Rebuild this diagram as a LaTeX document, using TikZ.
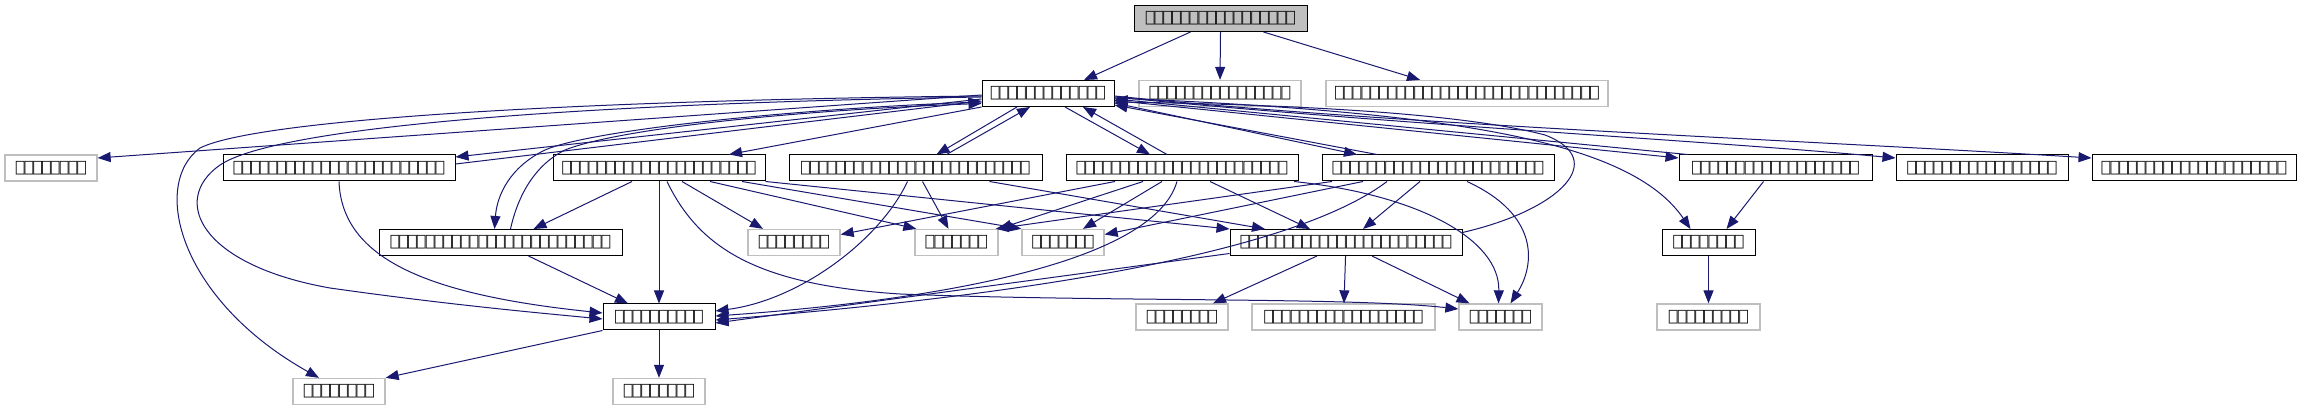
\documentclass[tikz,border=0pt]{standalone}
\usepackage{fontspec}
\usepackage{tikz}
\usetikzlibrary{arrows.meta, positioning, calc}
\usepackage{xcolor}
\newfontfamily\tofufont{DejaVu Sans Mono}
\definecolor{depblue}{HTML}{191970}
\definecolor{depgray}{HTML}{BFBFBF}

\begin{document}
\begin{tikzpicture}[x=1pt, y=-1pt,
    file/.style={draw=black, fill=white, line width=1pt, inner sep=0pt,
      minimum height=26pt, font=\tofufont\fontsize{14.6pt}{16pt}\selectfont},
    extfile/.style={file, draw=depgray, line width=1.3pt},
    rootfile/.style={file, fill=depgray},
    dep/.style={draw=depblue, line width=1pt,
      -{Triangle[length=13pt, width=10pt]}}]
  \fill[white] (0, 0) rectangle (2301, 411);
  \useasboundingbox (0, 0) rectangle (2301, 411);

  % Files
  \node[rootfile, minimum width=173pt] (src) at (1220.5, 18.5) {⎕⎕⎕⎕⎕⎕⎕⎕⎕⎕⎕⎕⎕⎕⎕⎕⎕};
  \node[file, minimum width=132pt] (hub) at (1048, 93.5) {⎕⎕⎕⎕⎕⎕⎕⎕⎕⎕⎕⎕⎕};
  \node[extfile, minimum width=162pt] (extA) at (1220, 93.5) {⎕⎕⎕⎕⎕⎕⎕⎕⎕⎕⎕⎕⎕⎕⎕⎕};
  \node[extfile, minimum width=282pt] (extB) at (1467, 93.5) {⎕⎕⎕⎕⎕⎕⎕⎕⎕⎕⎕⎕⎕⎕⎕⎕⎕⎕⎕⎕⎕⎕⎕⎕⎕⎕⎕⎕⎕⎕};

  \node[extfile, minimum width=92pt] (extC) at (51, 168) {⎕⎕⎕⎕⎕⎕⎕⎕};
  \node[file, minimum width=232pt] (modA) at (339, 168) {⎕⎕⎕⎕⎕⎕⎕⎕⎕⎕⎕⎕⎕⎕⎕⎕⎕⎕⎕⎕⎕⎕⎕⎕};
  \node[file, minimum width=212pt] (modB) at (659, 168) {⎕⎕⎕⎕⎕⎕⎕⎕⎕⎕⎕⎕⎕⎕⎕⎕⎕⎕⎕⎕⎕⎕};
  \node[file, minimum width=253pt] (modC) at (915.5, 168) {⎕⎕⎕⎕⎕⎕⎕⎕⎕⎕⎕⎕⎕⎕⎕⎕⎕⎕⎕⎕⎕⎕⎕⎕⎕⎕};
  \node[file, minimum width=232pt] (modD) at (1182, 168) {⎕⎕⎕⎕⎕⎕⎕⎕⎕⎕⎕⎕⎕⎕⎕⎕⎕⎕⎕⎕⎕⎕⎕⎕};
  \node[file, minimum width=232pt] (modE) at (1438, 168) {⎕⎕⎕⎕⎕⎕⎕⎕⎕⎕⎕⎕⎕⎕⎕⎕⎕⎕⎕⎕⎕⎕⎕⎕};
  \node[file, minimum width=193pt] (modF) at (1775.5, 168) {⎕⎕⎕⎕⎕⎕⎕⎕⎕⎕⎕⎕⎕⎕⎕⎕⎕⎕⎕};
  \node[file, minimum width=172pt] (modG) at (1982, 168) {⎕⎕⎕⎕⎕⎕⎕⎕⎕⎕⎕⎕⎕⎕⎕⎕⎕};
  \node[file, minimum width=204pt] (modH) at (2194, 168) {⎕⎕⎕⎕⎕⎕⎕⎕⎕⎕⎕⎕⎕⎕⎕⎕⎕⎕⎕⎕⎕};

  \node[file, minimum width=243pt] (subA) at (500.5, 242.5) {⎕⎕⎕⎕⎕⎕⎕⎕⎕⎕⎕⎕⎕⎕⎕⎕⎕⎕⎕⎕⎕⎕⎕⎕⎕};
  \node[extfile, minimum width=92pt] (extD) at (794, 242.5) {⎕⎕⎕⎕⎕⎕⎕⎕};
  \node[extfile, minimum width=83pt] (extE) at (956.5, 242.5) {⎕⎕⎕⎕⎕⎕⎕};
  \node[extfile, minimum width=82pt] (extF) at (1063, 242.5) {⎕⎕⎕⎕⎕⎕⎕};
  \node[file, minimum width=232pt] (subB) at (1346, 242.5) {⎕⎕⎕⎕⎕⎕⎕⎕⎕⎕⎕⎕⎕⎕⎕⎕⎕⎕⎕⎕⎕⎕⎕⎕};
  \node[file, minimum width=93pt] (subC) at (1708.5, 242.5) {⎕⎕⎕⎕⎕⎕⎕⎕};

  \node[file, minimum width=112pt] (base) at (659, 317) {⎕⎕⎕⎕⎕⎕⎕⎕⎕⎕};
  \node[extfile, minimum width=92pt] (extG) at (1182, 317) {⎕⎕⎕⎕⎕⎕⎕⎕};
  \node[extfile, minimum width=183pt] (extH) at (1343.5, 317) {⎕⎕⎕⎕⎕⎕⎕⎕⎕⎕⎕⎕⎕⎕⎕⎕⎕⎕};
  \node[extfile, minimum width=83pt] (extI) at (1500.5, 317) {⎕⎕⎕⎕⎕⎕⎕};
  \node[extfile, minimum width=103pt] (extJ) at (1708.5, 317) {⎕⎕⎕⎕⎕⎕⎕⎕⎕};

  \node[extfile, minimum width=92pt] (extK) at (339, 391.5) {⎕⎕⎕⎕⎕⎕⎕⎕};
  \node[extfile, minimum width=92pt] (extL) at (659, 391.5) {⎕⎕⎕⎕⎕⎕⎕⎕};

  % Includes of the top file
  \draw[dep] ([xshift=-30pt]src.south) -- ([xshift=36pt]hub.north);
  \draw[dep] (src.south) -- (extA.north);
  \draw[dep] ([xshift=43pt]src.south) -- ([xshift=-47pt]extB.north);

  % Includes of hub, left side
  \draw[dep] ([yshift=-1.5pt]hub.west) -- ([yshift=10pt]extC.east);
  \draw[dep] ([yshift=-5.5pt]hub.west) -- ([yshift=11pt]modA.east);
  \draw[dep] ([yshift=4pt]modA.east) -- ([yshift=-7.5pt]hub.west);
  \draw[dep] ([yshift=-2.5pt]hub.west) .. controls (600, 100) and (260, 118) .. (200, 148)
    .. controls (150, 185) and (180, 300) .. ([xshift=-20pt]extK.north);
  \draw[dep] ([yshift=-3.5pt]hub.west) .. controls (600, 103) and (280, 125) .. (220, 165)
    .. controls (170, 200) and (200, 265) .. (330, 288)
    .. controls (450, 305) and (540, 313) .. ([yshift=-2pt]base.west);
  \draw[dep] ([yshift=-8.5pt]hub.west) .. controls (800, 108) and (590, 130) .. (545, 150)
    .. controls (510, 167) and (497, 195) .. ([xshift=-6pt]subA.north);
  \draw[dep] ([xshift=10pt]subA.north) .. controls (518, 195) and (535, 165) .. (565, 150)
    .. controls (620, 128) and (800, 110) .. ([yshift=-10pt]hub.west);
  \draw[dep] (hub.south west) -- ([xshift=70pt]modB.north);

  % Includes of hub, below
  \draw[dep] ([xshift=-31pt]hub.south) -- ([xshift=21pt]modC.north);
  \draw[dep] ([xshift=31pt]modC.north) -- ([xshift=-18pt]hub.south);
  \draw[dep] ([xshift=17pt]hub.south) -- ([xshift=-32pt]modD.north);
  \draw[dep] ([xshift=-15pt]modD.north) -- ([xshift=35pt]hub.south);

  % Includes of hub, right side
  \draw[dep] ([yshift=-9.5pt]hub.east) -- ([xshift=-81pt]modE.north);
  \draw[dep] ([xshift=-61pt]modE.north) -- ([yshift=-11.5pt]hub.east);
  \draw[dep] ([yshift=-7pt]hub.east) -- ([yshift=10pt]modF.west);
  \draw[dep] ([xshift=-88pt]modF.north) -- ([yshift=-5.5pt]hub.east);
  \draw[dep] ([yshift=-3.5pt]hub.east) .. controls (1400, 125) and (1700, 140)
    .. ([yshift=10pt]modG.west);
  \draw[dep] ([yshift=-2.5pt]hub.east) .. controls (1400, 125) and (1800, 140)
    .. ([yshift=10pt]modH.west);
  \draw[dep] ([yshift=-4.5pt]hub.east) .. controls (1450, 112) and (1630, 140)
    .. ([xshift=-18pt]subC.north);
  \draw[dep] ([yshift=10pt]subB.east) .. controls (1560, 210) and (1610, 160) .. (1545, 135)
    .. controls (1450, 110) and (1250, 104) .. ([yshift=-8.5pt]hub.east);

  % Second level
  \draw[dep] (modA.south) .. controls (342, 260) and (430, 295) .. ([yshift=4pt]base.west);
  \draw[dep] ([xshift=-27pt]modB.south) -- ([xshift=33pt]subA.north);
  \draw[dep] (modB) -- (base);
  \draw[dep] ([xshift=8pt]modB.south) .. controls (700, 250) and (760, 285) .. (900, 294)
    .. controls (1100, 302) and (1350, 297) .. ([yshift=8pt]extI.west);
  \draw[dep] ([xshift=23pt]modB.south) -- ([xshift=-31pt]extD.north);
  \draw[dep] ([xshift=51pt]modB.south) -- ([xshift=2pt]extE.north west);
  \draw[dep] ([xshift=83pt]modB.south) -- (extF.north west);
  \draw[dep] (modB.south east) -- (subB.north west);

  \draw[dep] ([xshift=-8pt]modC.south) .. controls (880, 240) and (800, 300)
    .. ([yshift=6pt]base.east);
  \draw[dep] ([xshift=7pt]modC.south) -- ([xshift=-8pt]extE.north);
  \draw[dep] ([xshift=74pt]modC.south) -- ([xshift=-81pt]subB.north);

  \draw[dep] ([xshift=-67pt]modD.south) -- ([yshift=8pt]extD.east);
  \draw[dep] ([xshift=-39pt]modD.south) -- (extE.north east);
  \draw[dep] ([xshift=-20pt]modD.south) -- ([xshift=20pt]extF.north);
  \draw[dep] ([xshift=-5pt]modD.south) .. controls (1150, 275) and (870, 305)
    .. ([yshift=1pt]base.east);
  \draw[dep] ([xshift=28pt]modD.south) -- ([xshift=-36pt]subB.north);
  \draw[dep] ([xshift=112pt]modD.south) .. controls (1420, 195) and (1500, 240)
    .. ([xshift=-2pt]extI.north);

  \draw[dep] ([xshift=-106pt]modE.south) -- ([xshift=-3pt]extE.north east);
  \draw[dep] ([xshift=-75pt]modE.south) -- ([yshift=8pt]extF.east);
  \draw[dep] ([xshift=-51pt]modE.south) .. controls (1270, 270) and (900, 305)
    .. ([yshift=-3pt]base.east);
  \draw[dep] ([xshift=-18pt]modE.south) -- ([xshift=17pt]subB.north);
  \draw[dep] ([xshift=29pt]modE.south) .. controls (1540, 215) and (1535, 265)
    .. ([xshift=10pt]extI.north);

  \draw[dep] ([xshift=-12pt]modF.south) -- ([xshift=18pt]subC.north);
  \draw[dep] (subC) -- (extJ);

  % Third level
  \draw[dep] ([xshift=28pt]subA.south) -- ([xshift=-31pt]base.north);
  \draw[dep] ([xshift=-29pt]subB.south) -- ([xshift=31pt]extG.north);
  \draw[dep] (subB) -- (extH);
  \draw[dep] ([xshift=26pt]subB.south) -- ([xshift=-31pt]extI.north);
  \draw[dep] ([yshift=-11pt]subB.west) -- ([yshift=-6pt]base.east);
  \draw[dep] (base.south west) -- (extK.north east);
  \draw[dep] (base) -- (extL);
\end{tikzpicture}
\end{document}
